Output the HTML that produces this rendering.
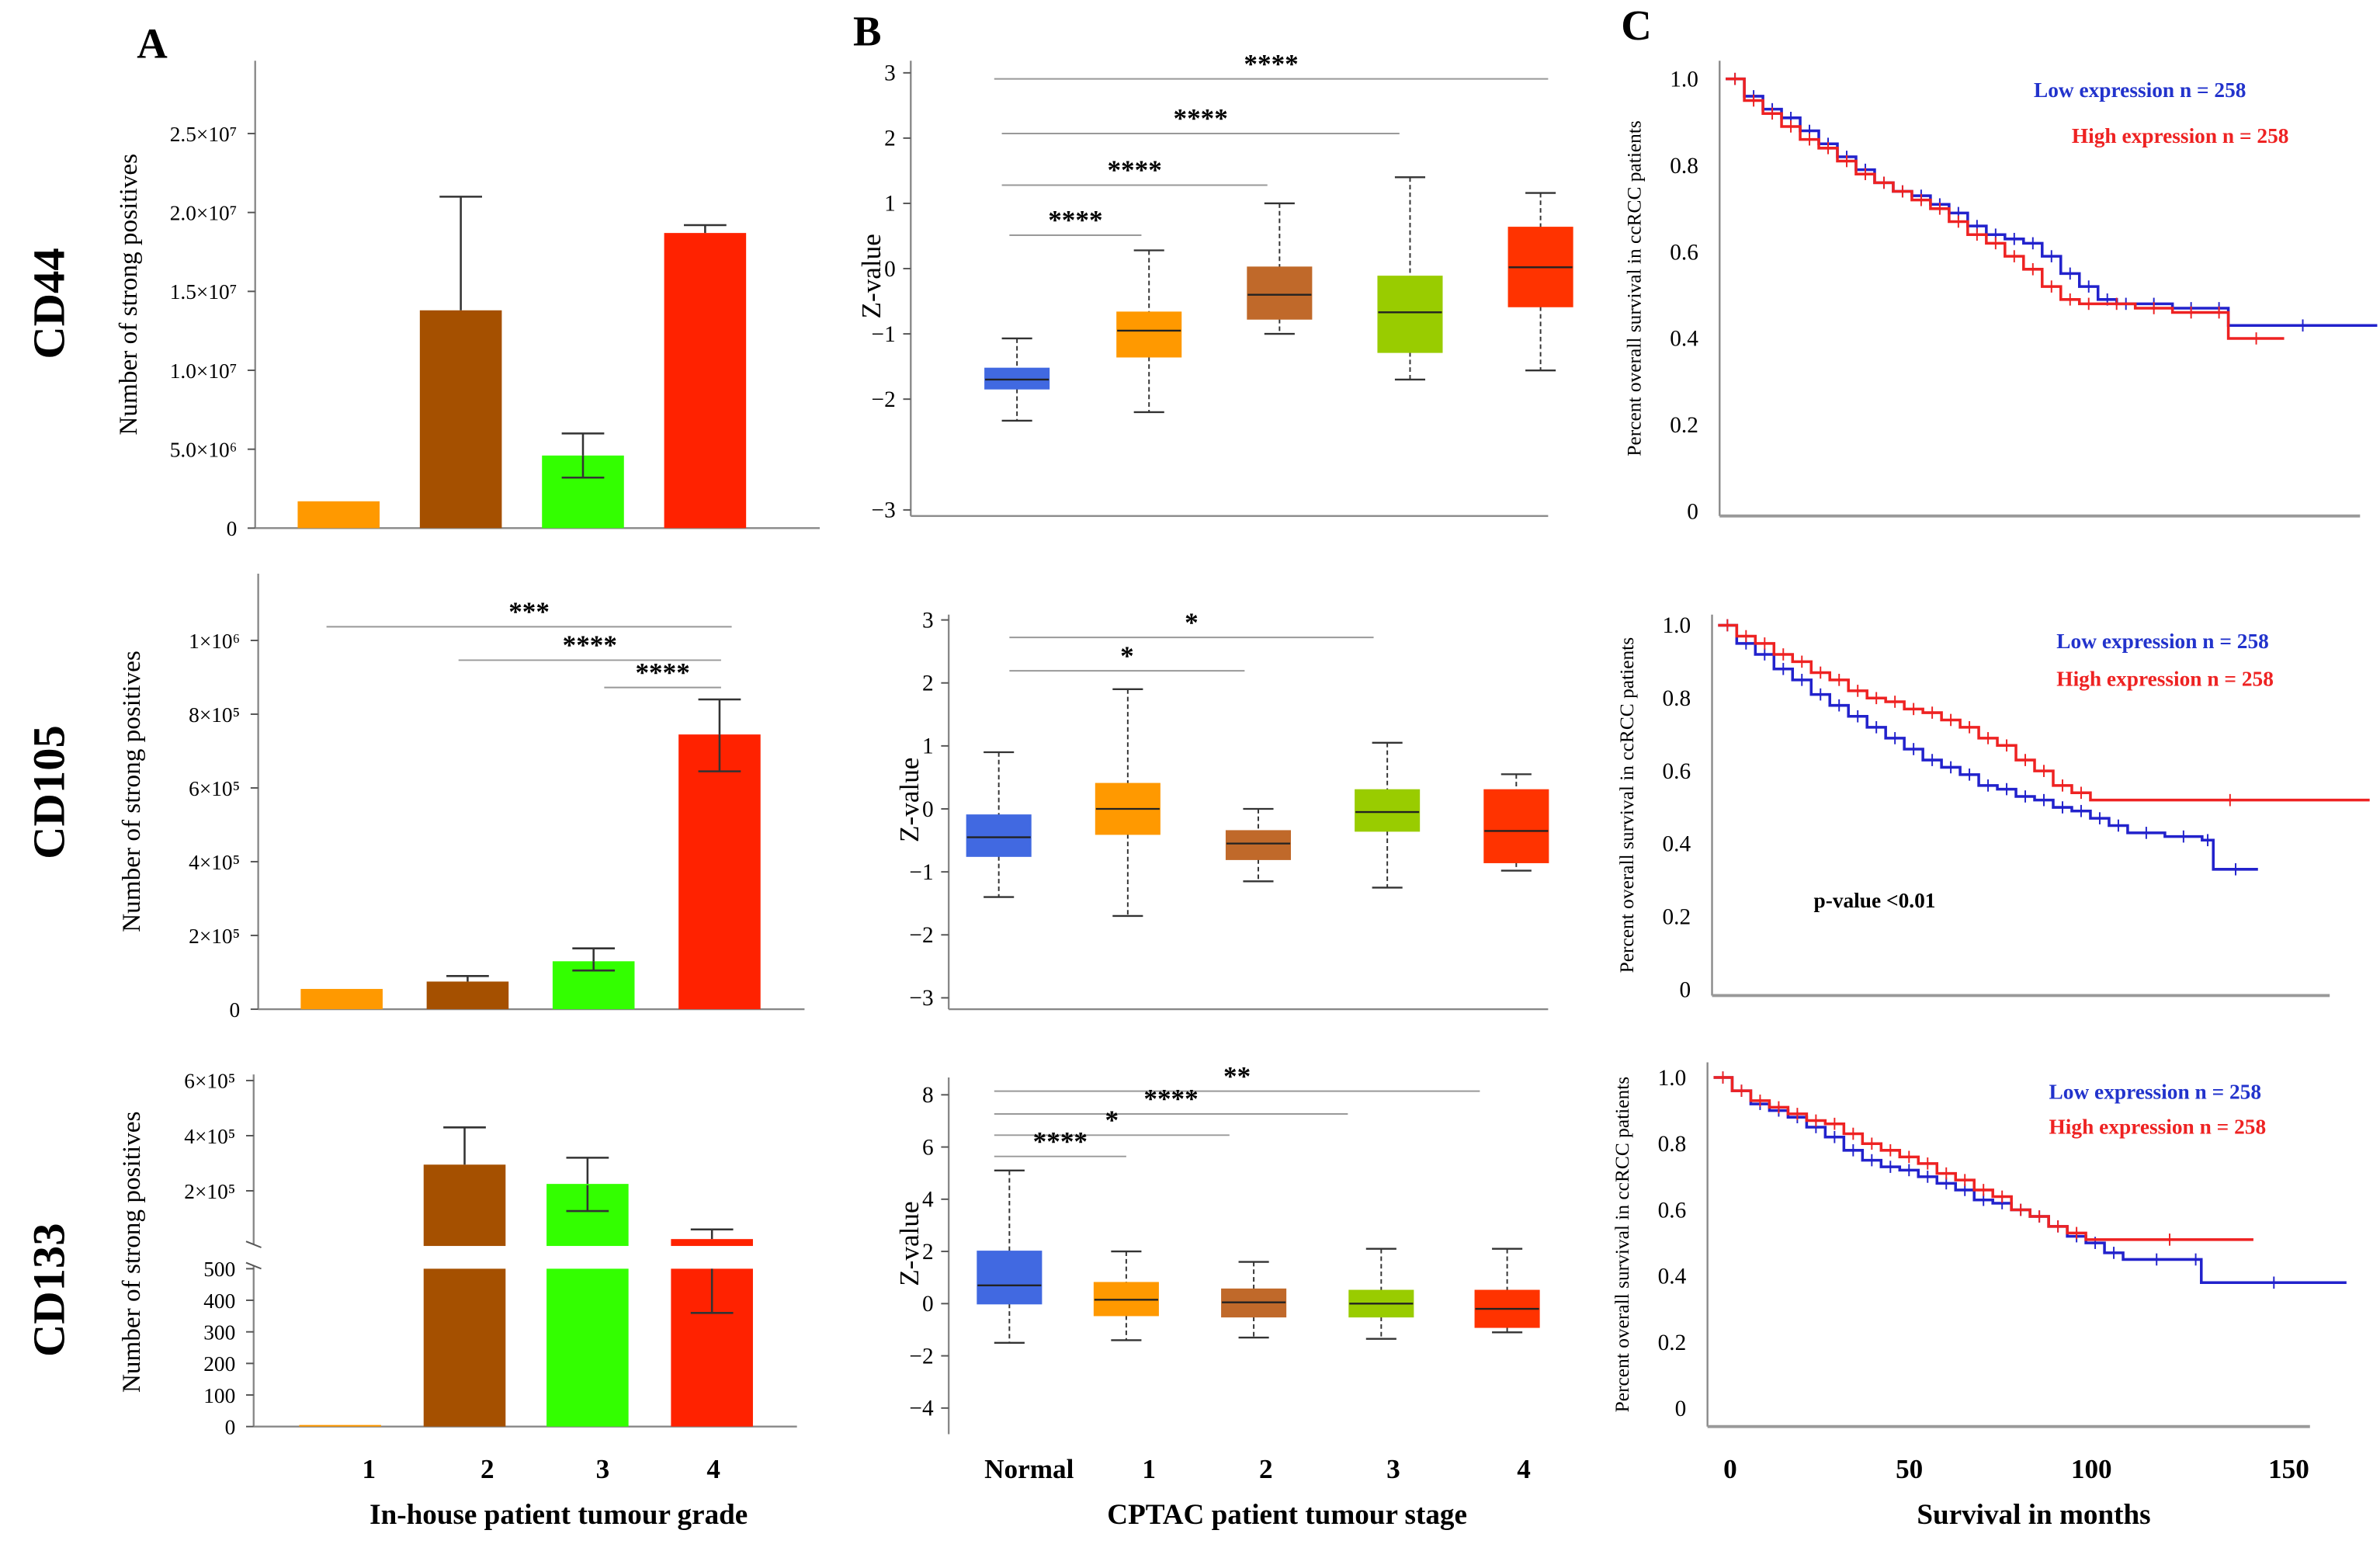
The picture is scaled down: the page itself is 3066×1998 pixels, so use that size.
<!DOCTYPE html>
<html><head><meta charset="utf-8"><style>
html,body{margin:0;padding:0;background:#fff}
svg{display:block;font-family:"Liberation Serif",serif}
</style></head><body>
<svg id="fig" xmlns="http://www.w3.org/2000/svg" width="3066" height="1998" viewBox="0 0 1568 1022">
<rect width="1568" height="1022" fill="#fff"/>
<g font-weight="bold" font-size="28">
<text x="90" y="38">A</text>
<text x="562" y="30">B</text>
<text x="1068" y="26">C</text>
</g>
<g font-weight="bold" font-size="30">
<text transform="translate(42,200) rotate(-90)" text-anchor="middle">CD44</text>
<text transform="translate(42,522) rotate(-90)" text-anchor="middle">CD105</text>
<text transform="translate(42,850) rotate(-90)" text-anchor="middle">CD133</text>
</g>
<g font-weight="bold" font-size="19" text-anchor="middle">
<text x="368" y="1004">In-house patient tumour grade</text>
<text x="848" y="1004">CPTAC patient tumour stage</text>
<text x="1340" y="1004">Survival in months</text>
</g>
<g id="root"></g>
</svg>
<script>
// ---------- Panel A data ----------
const gradeLabels = ['1','2','3','4'];
const cd44Values = [1.7e6, 1.38e7, 4.6e6, 1.87e7];
const cd44ErrHi = [1.7e6, 2.1e7, 6.0e6, 1.92e7];
const cd44ErrLo = [1.7e6, 1.38e7, 3.2e6, 1.87e7];
const cd44Ticks = [0, 5e6, 1e7, 1.5e7, 2e7, 2.5e7];
const cd44TickLabels = ['0','5.0×10⁶','1.0×10⁷','1.5×10⁷','2.0×10⁷','2.5×10⁷'];
const cd105Values = [55e3, 75e3, 130e3, 745e3];
const cd105ErrHi = [55e3, 90e3, 165e3, 840e3];
const cd105ErrLo = [55e3, 75e3, 105e3, 645e3];
const cd105Ticks = [0, 2e5, 4e5, 6e5, 8e5, 1e6];
const cd105TickLabels = ['0','2×10⁵','4×10⁵','6×10⁵','8×10⁵','1×10⁶'];
const cd133Upper = [0, 2.95e5, 2.25e5, 0.25e5];
const cd133UpperErr = [0, 4.3e5, 3.2e5, 0.6e5];
const cd133Lower = [5, 500, 500, 500];
const cd133LowerErrLo = [5, 500, 500, 360];
const cd133UpperTicks = [2e5, 4e5, 6e5];
const cd133UpperTickLabels = ['2×10⁵','4×10⁵','6×10⁵'];
const cd133LowerTicks = [0,100,200,300,400,500];
// ---------- Panel B data ----------
const stageLabels = ['Normal','1','2','3','4'];
const b1Whislo=[-2.33,-2.2,-1.0,-1.7,-1.56], b1Q1=[-1.84,-1.35,-0.77,-1.28,-0.58], b1Med=[-1.70,-0.95,-0.4,-0.67,0.02], b1Q3=[-1.53,-0.67,0.02,-0.12,0.63], b1Whishi=[-1.07,0.28,1.0,1.4,1.16];
const b2Whislo=[-1.4,-1.7,-1.15,-1.25,-0.98], b2Q1=[-0.75,-0.4,-0.8,-0.35,-0.85], b2Med=[-0.45,0.0,-0.55,-0.05,-0.35], b2Q3=[-0.1,0.4,-0.35,0.3,0.3], b2Whishi=[0.9,1.9,0.0,1.05,0.55];
const b3Whislo=[-1.5,-1.4,-1.3,-1.35,-1.1], b3Q1=[0.0,-0.45,-0.5,-0.5,-0.9], b3Med=[0.7,0.15,0.05,0.0,-0.2], b3Q3=[2.0,0.8,0.55,0.5,0.5], b3Whishi=[5.1,2.0,1.6,2.1,2.1];
const b1Ticks=[3,2,1,0,-1,-2], b2Ticks=[3,2,1,0,-1,-2,-3], b3Ticks=[8,6,4,2,0,-2,-4];
// ---------- Panel C data ----------
const survTicks=[0,0.2,0.4,0.6,0.8,1.0];
const monthTicks=[0,50,100,150];
const c1LowT=[0,5,10,15,20,25,30,35,40,45,50,55,60,65,70,75,80,85,90,95,100,105,110,120,130,135,175];
const c1LowS=[1,.96,.93,.91,.88,.85,.82,.79,.76,.74,.73,.71,.69,.66,.64,.63,.62,.59,.55,.52,.49,.48,.48,.47,.47,.43,.43];
const c1HighT=[0,5,10,15,20,25,30,35,40,45,50,55,60,65,70,75,80,85,90,95,100,110,120,130,135,150];
const c1HighS=[1,.95,.92,.89,.86,.84,.81,.78,.76,.74,.72,.70,.67,.64,.62,.59,.56,.52,.49,.48,.48,.47,.46,.46,.40,.40];
const c2LowT=[0,5,10,15,20,25,30,35,40,45,50,55,60,65,70,75,80,85,90,95,100,105,110,120,130,133,145];
const c2LowS=[1,.95,.92,.88,.85,.81,.78,.75,.72,.69,.66,.63,.61,.59,.56,.55,.53,.52,.5,.49,.47,.45,.43,.42,.41,.33,.33];
const c2HighT=[0,5,10,15,20,25,30,35,40,45,50,55,60,65,70,75,80,85,90,95,100,175];
const c2HighS=[1,.97,.95,.92,.9,.87,.85,.82,.8,.79,.77,.76,.74,.72,.69,.67,.63,.6,.56,.54,.52,.52];
const c3LowT=[0,5,10,15,20,25,30,35,40,45,50,55,60,65,70,75,80,85,90,95,100,105,110,128,131,170];
const c3LowS=[1,.96,.92,.9,.88,.85,.82,.78,.75,.73,.72,.7,.68,.66,.63,.62,.6,.58,.55,.52,.5,.47,.45,.45,.38,.38];
const c3HighT=[0,5,10,15,20,25,30,35,40,45,50,55,60,65,70,75,80,85,90,95,100,145];
const c3HighS=[1,.96,.93,.91,.89,.87,.86,.83,.8,.78,.76,.74,.71,.69,.66,.64,.6,.58,.55,.53,.51,.51];

const NS='http://www.w3.org/2000/svg';
const root=document.getElementById('root');
function mk(tag,attrs,parent){const e=document.createElementNS(NS,tag);for(const k in attrs)e.setAttribute(k,attrs[k]);(parent||root).appendChild(e);return e;}
function line(x1,y1,x2,y2,stroke,w,name,dash){const e=mk('line',{x1,y1,x2,y2,stroke,'stroke-width':w});if(dash)e.setAttribute('stroke-dasharray',dash);


return e;}
function text(x,y,s,size,name,anchor,extra){const e=mk('text',{x,y,'font-size':size,'text-anchor':anchor||'middle'});e.textContent=s;if(extra)for(const k in extra)e.setAttribute(k,extra[k]);


return e;}
function vtext(x,y,s,size,name){const e=text(0,0,s,size,name,'middle');e.setAttribute('transform','translate('+x+','+y+') rotate(-90)');return e;}
function lin(d0,d1,r0,r1){return v=>r0+(v-d0)*(r1-r0)/(d1-d0);}

const barColors=['#ff9900','#a55000','#33ff00','#ff2200'];
function barChart(cfg){
  const y=lin(0,cfg.max,cfg.y0,cfg.ymax);
  line(cfg.ax,cfg.top,cfg.ax,cfg.y0,'#888',1.2,'y-axis-line');
  line(cfg.ax,cfg.y0,cfg.xend,cfg.y0,'#888',1.2,'x-axis-line');
  cfg.ticks.forEach((t,i)=>{line(cfg.ax-5,y(t),cfg.ax,y(t),'#555',1,'y-tick');text(cfg.ax-12,y(t)+5,cfg.tickLabels[i],14,'y-tick-label','end');});
  cfg.values.forEach((v,i)=>{const cx=cfg.x0+i*cfg.step;
    const r=mk('rect',{x:cx-27,y:y(v),width:54,height:cfg.y0-y(v),fill:barColors[i]});
    
    
    if(cfg.hi[i]>v){line(cx,y(cfg.hi[i]),cx,y(v),'#333',1.3,'error-bar');line(cx-14,y(cfg.hi[i]),cx+14,y(cfg.hi[i]),'#333',1.3,'error-cap');}
    if(cfg.lo[i]<v){line(cx,y(v),cx,y(cfg.lo[i]),'#333',1.3,'error-bar');line(cx-14,y(cfg.lo[i]),cx+14,y(cfg.lo[i]),'#333',1.3,'error-cap');}
  });
  vtext(cfg.ax-78,(cfg.top+cfg.y0)/2,'Number of strong positives',17,'y-axis-title');
}
barChart({ax:168,top:40,y0:348,ymax:88,max:2.5e7,xend:540,x0:223,step:80.5,values:cd44Values,hi:cd44ErrHi,lo:cd44ErrLo,ticks:cd44Ticks,tickLabels:cd44TickLabels});
barChart({ax:170,top:378,y0:665,ymax:422,max:1e6,xend:530,x0:225,step:83,values:cd105Values,hi:cd105ErrHi,lo:cd105ErrLo,ticks:cd105Ticks,tickLabels:cd105TickLabels});
[[215,482,413,'***'],[302,475,435,'****'],[398,475,453,'****']].forEach(s=>{line(s[0],s[2],s[1],s[2],'#999',1,'significance-line');text((s[0]+s[1])/2,s[2]-4,s[3],18,'significance-stars','middle',{'font-weight':'bold'});});
(function(){
  const yl=lin(0,500,940,836), yu=lin(0,6e5,821,712), ax=167, xs=[224,306,387,469];
  line(ax,708,ax,820,'#888',1.2,'y-axis-upper');line(ax,834,ax,940,'#888',1.2,'y-axis-lower');
  line(ax-5,818,ax+5,822,'#555',1,'axis-break');line(ax-5,832,ax+5,836,'#555',1,'axis-break');
  line(ax,940,525,940,'#888',1.2,'x-axis-line');
  cd133UpperTicks.forEach((t,i)=>{line(ax-5,yu(t),ax,yu(t),'#555',1,'y-tick');text(ax-12,yu(t)+5,cd133UpperTickLabels[i],14,'y-tick-label','end');});
  cd133LowerTicks.forEach(t=>{line(ax-5,yl(t),ax,yl(t),'#555',1,'y-tick');text(ax-12,yl(t)+5,String(t),14,'y-tick-label','end');});
  xs.forEach((cx,i)=>{
    const r=mk('rect',{x:cx-27,y:yl(cd133Lower[i]),width:54,height:940-yl(cd133Lower[i]),fill:barColors[i]});
    
    
    if(cd133Upper[i]>0){const u=mk('rect',{x:cx-27,y:yu(cd133Upper[i]),width:54,height:821-yu(cd133Upper[i]),fill:barColors[i]});
      
      
      const e=yu(cd133UpperErr[i]);line(cx,e,cx,yu(cd133Upper[i]),'#333',1.3,'error-bar');line(cx-14,e,cx+14,e,'#333',1.3,'error-cap');
    }
    if(cd133LowerErrLo[i]<cd133Lower[i]){const e=yl(cd133LowerErrLo[i]);line(cx,yl(cd133Lower[i]),cx,e,'#333',1.3,'error-bar');line(cx-14,e,cx+14,e,'#333',1.3,'error-cap');}
  });
  line(387,781,387,798,'#333',1.3,'error-bar');line(373,798,401,798,'#333',1.3,'error-cap');
  vtext(ax-75,825,'Number of strong positives',17,'y-axis-title');
  const lx=[243,321,397,470];gradeLabels.forEach((g,i)=>text(lx[i],974,g,18,'x-tick-label','middle',{'font-weight':'bold'}));
})();

// ---------- Panel B ----------
const boxColors=['#4169e1','#ff9900','#c0692a','#99cc00','#ff3300'];
function boxPlot(cfg){
  const y=lin(0,1,cfg.zero,cfg.zero-cfg.unit);
  line(cfg.ax,cfg.top,cfg.ax,cfg.bottom,'#888',1.2,'y-axis-line');
  if(cfg.xaxis)line(cfg.ax,cfg.bottom,1020,cfg.bottom,'#888',1.2,'x-axis-line');
  cfg.ticks.forEach(t=>{const ty=(cfg.tickPos&&cfg.tickPos[t]!==undefined)?cfg.tickPos[t]:y(t);line(cfg.ax-5,ty,cfg.ax,ty,'#555',1,'y-tick');text(cfg.ax-10,ty+5,String(t).replace('-','−'),15,'y-tick-label','end');});
  cfg.q1.forEach((q,i)=>{const cx=cfg.xs[i];
    line(cx,y(cfg.hi[i]),cx,y(cfg.q3[i]),'#333',1,'whisker','3,2');
    line(cx,y(cfg.q1[i]),cx,y(cfg.lo[i]),'#333',1,'whisker','3,2');
    line(cx-10,y(cfg.hi[i]),cx+10,y(cfg.hi[i]),'#333',1.2,'whisker-cap');
    line(cx-10,y(cfg.lo[i]),cx+10,y(cfg.lo[i]),'#333',1.2,'whisker-cap');
    const r=mk('rect',{x:cx-21,y:y(cfg.q3[i]),width:42,height:y(cfg.q1[i])-y(cfg.q3[i]),fill:boxColors[i],stroke:boxColors[i]});
    
    
    line(cx-21,y(cfg.med[i]),cx+21,y(cfg.med[i]),'#222',1.2,'median-line');
  });
  cfg.sig.forEach(s=>{line(s[0],s[2],s[1],s[2],'#999',1,'significance-line');text((s[0]+s[1])/2,s[2]-4,s[3],18,'significance-stars','middle',{'font-weight':'bold'});});
  vtext(cfg.ax-20,(cfg.top+cfg.bottom)/2-8,'Z-value',18,'y-axis-title');
}
boxPlot({ax:600,top:40,bottom:340,zero:177,unit:43,xaxis:true,xs:[670,757,843,929,1015],ticks:b1Ticks.concat([-3]),tickPos:{'-3':336},
  lo:b1Whislo,q1:b1Q1,med:b1Med,q3:b1Q3,hi:b1Whishi,
  sig:[[655,1020,52,'****'],[660,922,88,'****'],[660,835,122,'****'],[665,752,155,'****']]});
boxPlot({ax:625,top:405,bottom:665,zero:533,unit:41.5,xaxis:true,xs:[658,743,829,914,999],ticks:b2Ticks,
  lo:b2Whislo,q1:b2Q1,med:b2Med,q3:b2Q3,hi:b2Whishi,
  sig:[[665,905,420,'*'],[665,820,442,'*']]});
boxPlot({ax:625,top:710,bottom:945,zero:859,unit:17.2,xaxis:false,xs:[665,742,826,910,993],ticks:b3Ticks,
  lo:b3Whislo,q1:b3Q1,med:b3Med,q3:b3Q3,hi:b3Whishi,
  sig:[[655,975,719,'**'],[655,888,734,'****'],[655,810,748,'*'],[655,742,762,'****']]});
[678,757,834,918,1004].forEach((x,i)=>text(x,974,stageLabels[i],18,'x-tick-label','middle',{'font-weight':'bold'}));

// ---------- Panel C ----------
function km(cfg){
  const x=lin(0,150,cfg.ax+4,cfg.ax+372), y=lin(0,1,cfg.y0,cfg.y1);
  line(cfg.ax,cfg.top,cfg.ax,cfg.bottom,'#888',1.2,'y-axis-line');
  line(cfg.ax,cfg.bottom,cfg.xend,cfg.bottom,'#999',2,'x-axis-line');
  survTicks.forEach(t=>text(cfg.ax-14,y(t)+5,t===0?'0':t.toFixed(1),15,'y-tick-label','end'));
  [[cfg.lowT,cfg.lowS,'#2222cc','low-expression-curve'],[cfg.highT,cfg.highS,'#ee2222','high-expression-curve']].forEach(s=>{
    let d='M'+x(s[0][0])+','+y(s[1][0]);
    for(let i=1;i<s[0].length;i++){d+=' H'+x(s[0][i])+' V'+y(s[1][i]);}
    const p=mk('path',{d,fill:'none',stroke:s[2],'stroke-width':1.8});
    
    
    for(let i=1;i<s[0].length;i++){const cx=(x(s[0][i-1])+x(s[0][i]))/2;line(cx,y(s[1][i-1])-4,cx,y(s[1][i-1])+4,s[2],1,'censor-mark');}
  });
  text(cfg.lx,cfg.ly,'Low expression n = 258',14,'legend-low','start',{fill:'#2233cc','font-weight':'bold'});
  text(cfg.lx+cfg.dx,cfg.ly+cfg.dy,'High expression n = 258',14,'legend-high','start',{fill:'#ee2222','font-weight':'bold'});
  vtext(cfg.ax-52,(cfg.top+cfg.bottom)/2,'Percent overall survival in ccRCC patients',13,'y-axis-title');
}
km({ax:1133,top:40,bottom:340,xend:1555,y0:337,y1:52,lowT:c1LowT,lowS:c1LowS,highT:c1HighT,highS:c1HighS,lx:1340,ly:64,dx:25,dy:30});
km({ax:1128,top:405,bottom:656,xend:1535,y0:652,y1:412,lowT:c2LowT,lowS:c2LowS,highT:c2HighT,highS:c2HighS,lx:1355,ly:427,dx:0,dy:25});
km({ax:1125,top:700,bottom:940,xend:1522,y0:928,y1:710,lowT:c3LowT,lowS:c3LowS,highT:c3HighT,highS:c3HighS,lx:1350,ly:724,dx:0,dy:23});
text(1195,598,'p-value <0.01',14,'p-value-annotation','start',{'font-weight':'bold'});
[1140,1258,1378,1508].forEach((px,i)=>text(px,974,String(monthTicks[i]),18,'x-tick-label','middle',{'font-weight':'bold'}));
</script>
</body></html>
